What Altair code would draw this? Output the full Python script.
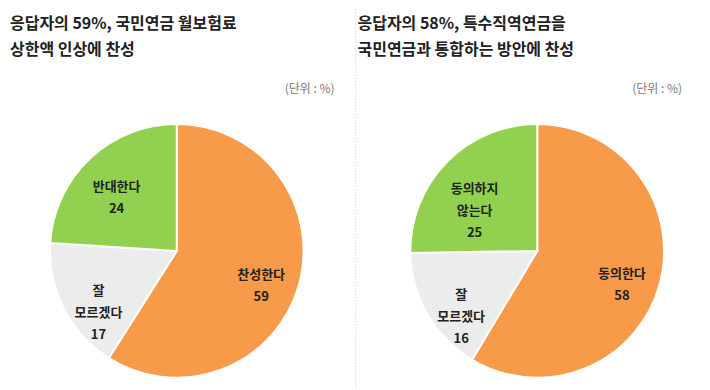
import altair as alt
import pandas as pd

# Left chart data
left_title = "응답자의 59%, 국민연금 월보험료\n상한액 인상에 찬성"
left_cats = ["찬성한다", "잘\n모르겠다", "반대한다"]
left_vals = [59, 17, 24]

# Right chart data
right_title = "응답자의 58%, 특수직역연금을\n국민연금과 통합하는 방안에 찬성"
right_cats = ["동의한다", "잘\n모르겠다", "동의하지\n않는다"]
right_vals = [58, 16, 25]

unit_text = "(단위 : %)"
colors = ["#F79A4A", "#ECECEC", "#92D050"]

FONT = "Noto Sans CJK KR"
W, H = 347, 374
R = 127


def panel(title, cats, vals, cx, divider=False):
    df = pd.DataFrame({
        "cat": cats,
        "value": vals,
        "ord": list(range(len(cats))),
        "label": [f"{c}\n{v}" for c, v in zip(cats, vals)],
    })
    base = alt.Chart(df).encode(
        theta=alt.Theta("value:Q", stack=True),
        order=alt.Order("ord:Q"),
        x=alt.value(cx),
        y=alt.value(242),
    )
    arcs = base.mark_arc(outerRadius=R, stroke="white", strokeWidth=2).encode(
        color=alt.Color("ord:N", scale=alt.Scale(domain=[0, 1, 2], range=colors), legend=None)
    )
    labels = base.mark_text(
        radius=88, lineBreak="\n", lineHeight=22, fontSize=13,
        fontWeight="bold", font=FONT, color="#222222"
    ).encode(text="label:N")
    tdf = pd.DataFrame({"t": [title], "u": [unit_text]})
    ttl = alt.Chart(tdf).mark_text(
        align="left", baseline="alphabetic", lineBreak="\n", lineHeight=26,
        fontSize=16, fontWeight="bold", font=FONT, color="#222222"
    ).encode(text="t:N", x=alt.value(2), y=alt.value(20))
    unit = alt.Chart(tdf).mark_text(
        align="right", baseline="middle", fontSize=12, font=FONT, color="#777777"
    ).encode(text="u:N", x=alt.value(W - 20), y=alt.value(80))
    layers = [arcs, labels, ttl, unit]
    if divider:
        div = alt.Chart(tdf).mark_rule(color="#d0d0d0", strokeDash=[1, 2], strokeWidth=1).encode(
            x=alt.value(0), y=alt.value(0), y2=alt.value(H + 8)
        )
        layers.insert(0, div)
    return alt.layer(*layers).properties(width=W, height=H)


left = panel(left_title, left_cats, left_vals, 169)
right = panel(right_title, right_cats, right_vals, 182, divider=True)

chart = alt.hconcat(left, right, spacing=0).configure(
    padding=0, background="white"
).configure_view(strokeWidth=0, stroke="transparent")
chart.save("out.html", embed_options={"renderer": "svg", "actions": False})
